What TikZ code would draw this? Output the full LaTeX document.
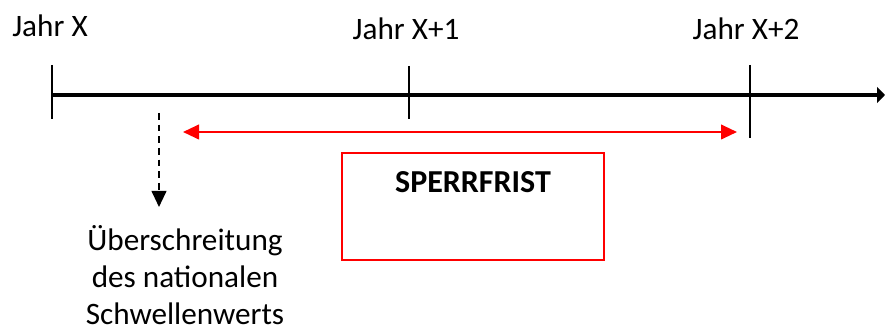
\documentclass[tikz,border=0pt]{standalone}
\usepackage{fontspec}
\setmainfont{Carlito}
\usetikzlibrary{arrows.meta}
\begin{document}
\begin{tikzpicture}[x=0.75pt,y=-0.75pt,
  lbl/.style={font=\fontsize{23.4}{27.75}\selectfont, inner sep=0pt, anchor=base},
  axisline/.style={line width=3pt, -{Triangle[length=6pt,width=12pt]}},
  tickline/.style={line width=1.1pt},
  period/.style={draw=red, line width=1.5pt, {Triangle[length=12pt,width=11pt]}-{Triangle[length=12pt,width=11pt]}},
  pointer/.style={line width=1.5pt, dash pattern=on 5pt off 3.75pt, -{Triangle[length=12pt,width=11pt]}},
  framebox/.style={draw=red, line width=1.1pt}]
\useasboundingbox (0,0) rectangle (886,331);

% time axis
\coordinate (a0) at (52,95);
\coordinate (a1) at (885,95);
\draw[axisline] (a0) -- (a1);

% year ticks
\coordinate (t0a) at (52,65);  \coordinate (t0b) at (52,119);
\coordinate (t1a) at (409,66); \coordinate (t1b) at (409,119);
\coordinate (t2a) at (750,65); \coordinate (t2b) at (750,138);
\draw[tickline] (t0a) -- (t0b);
\draw[tickline] (t1a) -- (t1b);
\draw[tickline] (t2a) -- (t2b);

% year labels
\node[lbl] (y0) at (50,37) {Jahr X};
\node[lbl] (y1) at (406,40) {Jahr X+1};
\node[lbl] (y2) at (746,40) {Jahr X+2};

% blocking period
\coordinate (p0) at (183,132);
\coordinate (p1) at (737,132);
\draw[period] (p0) -- (p1);
\node[framebox, minimum width=262*0.75pt, minimum height=107*0.75pt, inner sep=0pt] (box) at (473,206.5) {};
\node[lbl, font=\fontsize{24}{27.75}\selectfont\bfseries] (sf) at (473,193) {SPERRFRIST};

% threshold crossing (base anchor sits on the last line)
\coordinate (d0) at (159,113);
\coordinate (d1) at (159,207);
\draw[pointer] (d0) -- (d1);
\node[lbl, align=center] (thr) at (185,325) {Überschreitung\\des nationalen\\Schwellenwerts};
\end{tikzpicture}
\end{document}
